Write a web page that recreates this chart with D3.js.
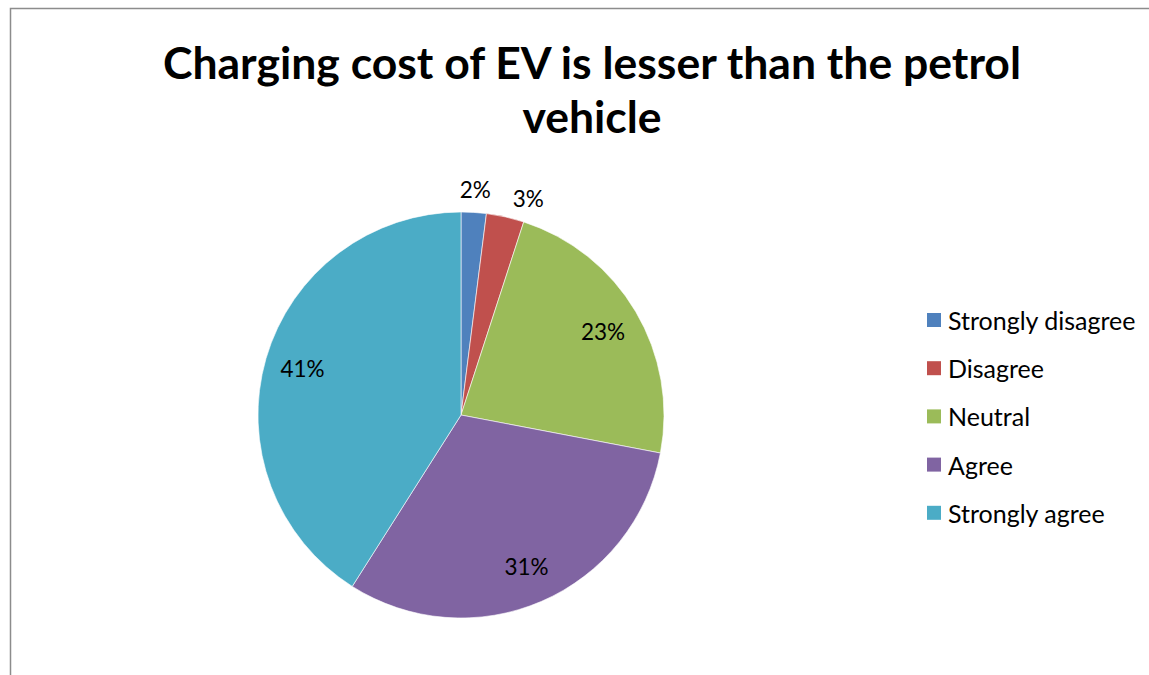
<!DOCTYPE html>
<html>
<head>
<meta charset="utf-8">
<script src="https://cdn.jsdelivr.net/npm/d3@7"></script>
<style>
  html, body { margin: 0; padding: 0; background: #fff; }
  svg { display: block; }
  text { font-family: Lato, "Open Sans", sans-serif; fill: #000; }
</style>
</head>
<body>
<div id="chart"></div>
<script>
const categories = ["Strongly disagree", "Disagree", "Neutral", "Agree", "Strongly agree"];
const percentages = [2, 3, 23, 31, 41];
const colors = ["#4F81BD", "#C0504D", "#9BBB59", "#8064A2", "#4BACC6"];
const titleLines = ["Charging cost of EV is lesser than the petrol", "vehicle"];

const W = 1149, H = 675;
const svg = d3.select("#chart").append("svg").attr("width", W).attr("height", H);

// chart frame (top and left edges)
svg.append("path")
  .attr("d", `M10.5,${H} L10.5,8.5 L${W},8.5`)
  .attr("fill", "none").attr("stroke", "#8c8c8c").attr("stroke-width", 1.5);

// title
const title = svg.append("text").attr("text-anchor", "middle")
  .style("font-weight", "bold").style("font-size", "44.5px");
titleLines.forEach((t, i) => {
  title.append("tspan").attr("x", 592).attr("y", 79 + i * 54).text(t);
});

const cx = 461, cy = 415, R = 203;
const pie = d3.pie().sort(null).value(d => d.value);
const arcs = pie(categories.map((c, i) => ({ name: c, value: percentages[i], color: colors[i] })));
const arc = d3.arc().innerRadius(0).outerRadius(R);

const g = svg.append("g").attr("transform", `translate(${cx},${cy})`);
g.selectAll("path.slice").data(arcs).join("path")
  .attr("class", "slice")
  .attr("d", arc)
  .attr("fill", d => d.data.color)
  .attr("stroke", "#fff").attr("stroke-width", 0.6);

// data labels: inside for large slices, outside for small ones
const inner = d3.arc().innerRadius(165).outerRadius(165);
const outer = d3.arc().innerRadius(226).outerRadius(226);
const outsideNudge = [[0, 0], [18, 4]];
g.selectAll("text.lbl").data(arcs).join("text")
  .attr("class", "lbl")
  .attr("text-anchor", "middle")
  .attr("dominant-baseline", "central")
  .style("font-size", "22.5px")
  .attr("transform", (d, i) => {
    if (d.data.value < 5) {
      const [x, y] = outer.centroid(d);
      const n = outsideNudge[i] || [0, 0];
      return `translate(${x + n[0]},${y + n[1]})`;
    }
    return `translate(${inner.centroid(d)})`;
  })
  .text(d => d.data.value + "%");

// legend
const leg = svg.append("g").attr("transform", "translate(927,320)");
const rows = leg.selectAll("g").data(categories).join("g")
  .attr("transform", (d, i) => `translate(0,${i * 48.2})`);
rows.append("rect").attr("x", 0).attr("y", -7).attr("width", 14).attr("height", 14)
  .attr("fill", (d, i) => colors[i]);
rows.append("text").attr("x", 21).attr("dominant-baseline", "central")
  .style("font-size", "25px").text(d => d);
</script>
</body>
</html>
